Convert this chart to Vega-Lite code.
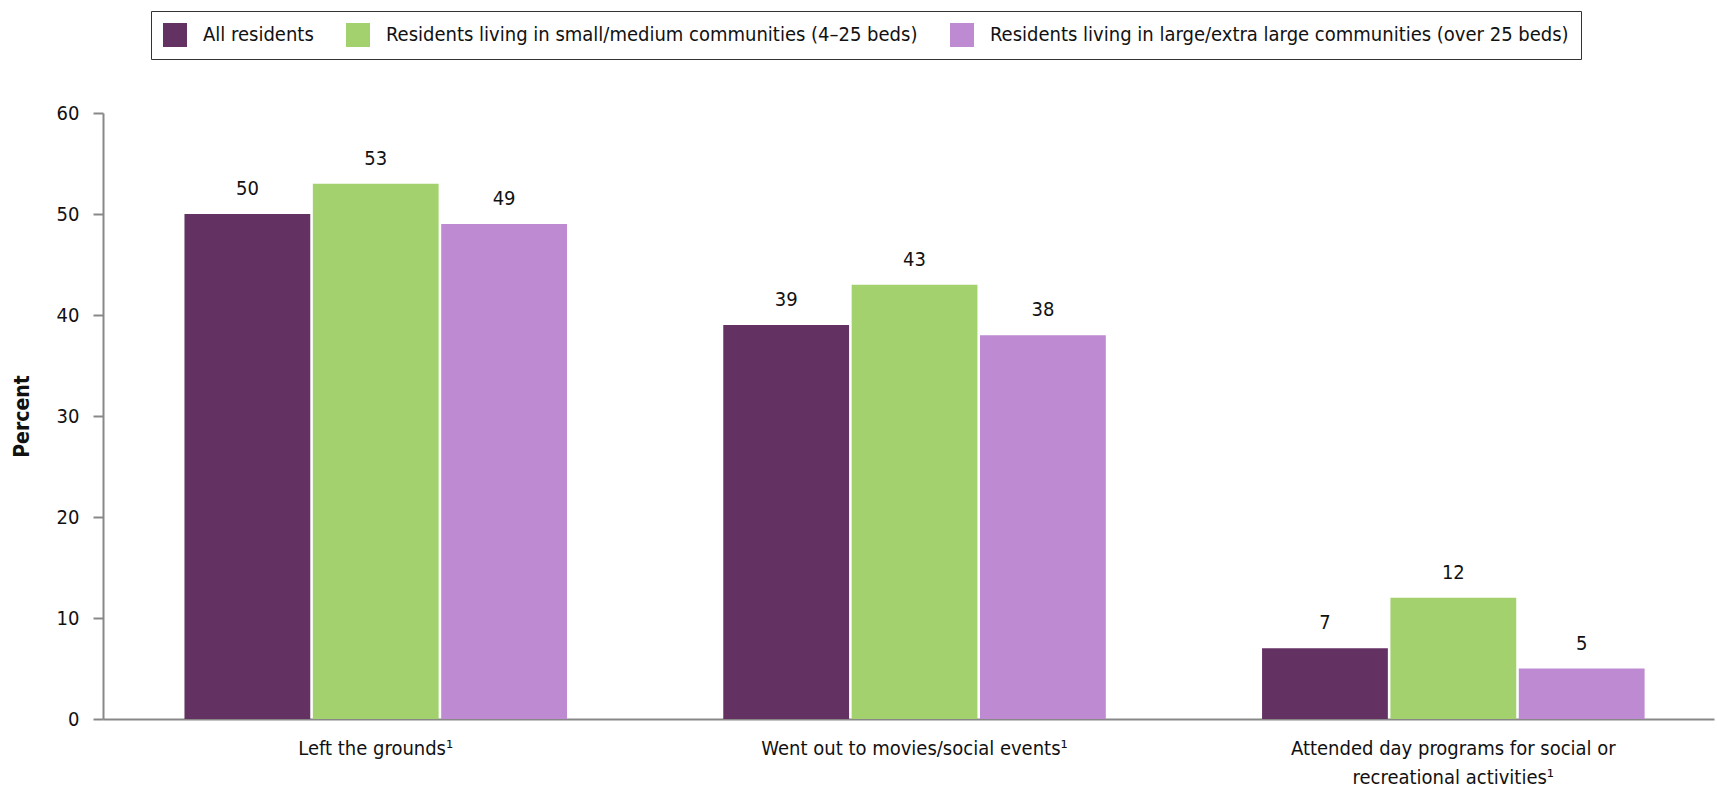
{
  "$schema": "https://vega.github.io/schema/vega-lite/v6.json",
  "width": 1611,
  "height": 606,
  "autosize": "none",
  "padding": {"left": 103, "top": 113, "right": 3, "bottom": 75},
  "background": "white",
  "config": {
    "font": "DejaVu Sans Condensed, Liberation Sans, sans-serif",
    "view": {"stroke": null},
    "axis": {"labelFont": "DejaVu Sans Condensed, Liberation Sans, sans-serif", "titleFont": "DejaVu Sans Condensed, Liberation Sans, sans-serif", "labelColor": "#111", "titleColor": "#111"}
  },
  "data": {
    "values": [
      {"activity": "Left the grounds¹", "group": "All residents", "value": 50},
      {"activity": "Left the grounds¹", "group": "Residents living in small/medium communities (4–25 beds)", "value": 53},
      {"activity": "Left the grounds¹", "group": "Residents living in large/extra large communities (over 25 beds)", "value": 49},
      {"activity": "Went out to movies/social events¹", "group": "All residents", "value": 39},
      {"activity": "Went out to movies/social events¹", "group": "Residents living in small/medium communities (4–25 beds)", "value": 43},
      {"activity": "Went out to movies/social events¹", "group": "Residents living in large/extra large communities (over 25 beds)", "value": 38},
      {"activity": "Attended day programs for social or recreational activities¹", "group": "All residents", "value": 7},
      {"activity": "Attended day programs for social or recreational activities¹", "group": "Residents living in small/medium communities (4–25 beds)", "value": 12},
      {"activity": "Attended day programs for social or recreational activities¹", "group": "Residents living in large/extra large communities (over 25 beds)", "value": 5}
    ]
  },
  "encoding": {
    "x": {
      "field": "activity", "type": "nominal", "sort": null,
      "scale": {"paddingInner": 0.29, "paddingOuter": 0.14, "align": 0.54},
      "axis": {
        "title": null, "labelAngle": 0, "ticks": false, "domainColor": "#888", "domainWidth": 2,
        "labelFontSize": 20, "labelPadding": 19, "labelLineHeight": 29, "labelBaseline": "top", "labelLimit": 0,
        "labelExpr": "datum.label == 'Attended day programs for social or recreational activities¹' ? ['Attended day programs for social or', 'recreational activities¹'] : datum.label"
      }
    },
    "xOffset": {
      "field": "group", "type": "nominal", "sort": null,
      "scale": {"paddingInner": 0.02}
    },
    "y": {
      "field": "value", "type": "quantitative",
      "scale": {"domain": [0, 60]},
      "axis": {
        "title": "Percent", "titleFontSize": 21, "titleFontWeight": "bold", "titlePadding": 24,
        "values": [0, 10, 20, 30, 40, 50, 60], "grid": false,
        "labelFontSize": 20, "labelPadding": 14, "tickSize": 10, "tickColor": "#888", "tickWidth": 2,
        "domainColor": "#888", "domainWidth": 2
      }
    }
  },
  "layer": [
    {
      "mark": {"type": "bar"},
      "encoding": {
        "color": {
          "field": "group", "type": "nominal", "sort": null,
          "scale": {
            "domain": ["All residents", "Residents living in small/medium communities (4–25 beds)", "Residents living in large/extra large communities (over 25 beds)"],
            "range": ["#643262", "#A3D16E", "#BE8AD2"]
          },
          "legend": {
            "title": null, "orient": "none", "legendX": 48, "legendY": -102, "direction": "horizontal",
            "symbolType": "square", "symbolSize": 576, "symbolStrokeWidth": 0,
            "labelFontSize": 20, "labelFont": "DejaVu Sans Condensed, Liberation Sans, sans-serif", "labelColor": "#111", "labelLimit": 0,
            "columnPadding": 32, "padding": 12, "strokeColor": "#333", "fillColor": "white",
            "labelOffset": 16
          }
        }
      }
    },
    {
      "mark": {"type": "text", "baseline": "bottom", "dy": -15, "fontSize": 20, "color": "#111"},
      "encoding": {"text": {"field": "value", "type": "quantitative"}}
    }
  ]
}
